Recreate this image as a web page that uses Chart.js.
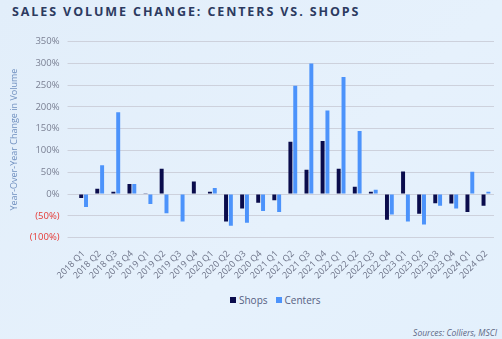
<!DOCTYPE html>
<html>
<head>
<meta charset="utf-8">
<script src="https://cdn.jsdelivr.net/npm/chart.js@4.4.1/dist/chart.umd.min.js"></script>
<style>
  body { margin:0; }
  #wrap { position:relative; width:502px; height:339px; background:linear-gradient(135deg,#e2eefa 0%,#e6f1fc 60%,#e3f0fc 100%); overflow:hidden; font-family:"Open Sans",sans-serif; }
  #title { position:absolute; left:12px; top:3px; font-size:12.5px; font-weight:700; letter-spacing:1.9px; color:#2c3a60; white-space:nowrap; }
  #src { position:absolute; right:5px; bottom:1px; font-size:8.5px; font-style:italic; color:#5d6784; }
  #cv { position:absolute; left:0; top:28px; }
  #legend { position:absolute; left:230px; top:293px; font-size:10px; color:#566082; white-space:nowrap; }
  #legend span.box { display:inline-block; width:6px; height:6px; margin-right:3px; vertical-align:1px; }
  #legend span.item { margin-right:8px; }
</style>
</head>
<body>
<div id="wrap">
  <div id="title">SALES VOLUME CHANGE: CENTERS VS. SHOPS</div>
  <canvas id="cv" width="502" height="256"></canvas>
  <div id="legend"></div>
  <div id="src">Sources: Colliers, MSCI</div>
</div>
<script>
// quarters shown on the x axis
var quarters = ["2018 Q1","2018 Q2","2018 Q3","2018 Q4","2019 Q1","2019 Q2","2019 Q3","2019 Q4",
  "2020 Q1","2020 Q2","2020 Q3","2020 Q4","2021 Q1","2021 Q2","2021 Q3","2021 Q4",
  "2022 Q1","2022 Q2","2022 Q3","2022 Q4","2023 Q1","2023 Q2","2023 Q3","2023 Q4","2024 Q1","2024 Q2"];

// year over year change, percent
var shops   = [-9, 12, 5, 23, 2, 58, 1.5, 29, 5, -63, -33, -20, -14, 120, 56, 122, 58, 17, 5, -59, 52, -45, -21, -22, -41, -27];
var centers = [-30, 66, 188, 23, -23, -44, -63, 0, 14, -73, -66, -39, -41, 249, 300, 192, 269, 145, 10, -47, -63, -70, -27, -33, 51, 5];

var yMin = -100, yMax = 350, yStep = 50;

function pctLabel(v){
  if (v < 0) return "(" + Math.abs(v) + "%)";
  return v + "%";
}

var ctx = document.getElementById("cv").getContext("2d");
var chart = new Chart(ctx, {
  type: "bar",
  data: {
    labels: quarters,
    datasets: [
      { label: "Shops", data: shops, backgroundColor: "#0a0c4c", categoryPercentage: 0.6, barPercentage: 0.82 },
      { label: "Centers", data: centers, backgroundColor: "#4c93fb", categoryPercentage: 0.6, barPercentage: 0.82 }
    ]
  },
  options: {
    responsive: false,
    animation: false,
    layout: { padding: { left: 7, right: 8, top: 9, bottom: 0 } },
    plugins: {
      legend: { display: false },
      tooltip: { enabled: false }
    },
    scales: {
      x: {
        grid: { display: false },
        border: { display: false },
        ticks: { color: "#6d7388", font: { family: "Open Sans", size: 9 }, maxRotation: 45, minRotation: 45, autoSkip: false }
      },
      y: {
        min: yMin, max: yMax,
        grid: { color: "#cdd1dc", lineWidth: 1 },
        border: { display: false },
        ticks: {
          stepSize: yStep,
          padding: 8,
          font: { family: "Open Sans", size: 9.5 },
          color: function(c){ return c.tick.value < 0 ? "#e53935" : "#7b8194"; },
          callback: function(v){ return pctLabel(v); }
        },
        title: { display: true, text: "Year-Over-Year Change in Volume", color: "#6f8fbf", font: { family: "Open Sans", size: 9 }, padding: 2 }
      }
    }
  }
});

// html legend built from the datasets
var lg = document.getElementById("legend");
chart.data.datasets.forEach(function(ds){
  var it = document.createElement("span");
  it.className = "item";
  it.innerHTML = '<span class="box" style="background:' + ds.backgroundColor + '"></span>' + ds.label;
  lg.appendChild(it);
});
</script>
</body>
</html>
